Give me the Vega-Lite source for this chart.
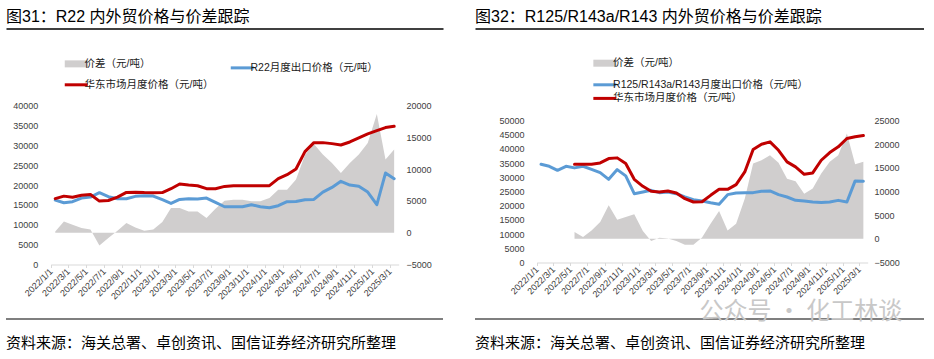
{
  "$schema": "https://vega.github.io/schema/vega-lite/v6.json",
  "background": "white",
  "padding": {"left": 6, "top": 8.5, "right": 0, "bottom": 0},
  "datasets": {
    "r22": [
      {"date": "2022-01-01", "spread": 200, "export_price": 16200, "domestic_price": 16560},
      {"date": "2022-02-01", "spread": 1780, "export_price": 15540, "domestic_price": 17200},
      {"date": "2022-03-01", "spread": 1260, "export_price": 15790, "domestic_price": 16900},
      {"date": "2022-04-01", "spread": 730, "export_price": 16710, "domestic_price": 17400},
      {"date": "2022-05-01", "spread": 520, "export_price": 16960, "domestic_price": 17600},
      {"date": "2022-06-01", "spread": -2000, "export_price": 18070, "domestic_price": 15950},
      {"date": "2022-07-01", "spread": -850, "export_price": 17050, "domestic_price": 16100},
      {"date": "2022-08-01", "spread": 310, "export_price": 16550, "domestic_price": 16970},
      {"date": "2022-09-01", "spread": 1520, "export_price": 16550, "domestic_price": 18140},
      {"date": "2022-10-01", "spread": 830, "export_price": 17140, "domestic_price": 18200},
      {"date": "2022-11-01", "spread": 310, "export_price": 17300, "domestic_price": 18100},
      {"date": "2022-12-01", "spread": 520, "export_price": 17220, "domestic_price": 18060},
      {"date": "2023-01-01", "spread": 1670, "export_price": 16300, "domestic_price": 18100},
      {"date": "2023-02-01", "spread": 3880, "export_price": 15370, "domestic_price": 19070},
      {"date": "2023-03-01", "spread": 3880, "export_price": 16380, "domestic_price": 20240},
      {"date": "2023-04-01", "spread": 3350, "export_price": 16550, "domestic_price": 19990},
      {"date": "2023-05-01", "spread": 3350, "export_price": 16470, "domestic_price": 19820},
      {"date": "2023-06-01", "spread": 2300, "export_price": 16720, "domestic_price": 19070},
      {"date": "2023-07-01", "spread": 3780, "export_price": 15620, "domestic_price": 19070},
      {"date": "2023-08-01", "spread": 5040, "export_price": 14530, "domestic_price": 19650},
      {"date": "2023-09-01", "spread": 5200, "export_price": 14530, "domestic_price": 19830},
      {"date": "2023-10-01", "spread": 5200, "export_price": 14530, "domestic_price": 19830},
      {"date": "2023-11-01", "spread": 4930, "export_price": 15040, "domestic_price": 19830},
      {"date": "2023-12-01", "spread": 4930, "export_price": 14530, "domestic_price": 19830},
      {"date": "2024-01-01", "spread": 5450, "export_price": 14280, "domestic_price": 19830},
      {"date": "2024-02-01", "spread": 6770, "export_price": 14790, "domestic_price": 21590},
      {"date": "2024-03-01", "spread": 6770, "export_price": 15800, "domestic_price": 22600},
      {"date": "2024-04-01", "spread": 8350, "export_price": 15870, "domestic_price": 24020},
      {"date": "2024-05-01", "spread": 12200, "export_price": 16300, "domestic_price": 28400},
      {"date": "2024-06-01", "spread": 13960, "export_price": 16380, "domestic_price": 30660},
      {"date": "2024-07-01", "spread": 12280, "export_price": 18220, "domestic_price": 30660},
      {"date": "2024-08-01", "spread": 10960, "export_price": 19400, "domestic_price": 30410},
      {"date": "2024-09-01", "spread": 9390, "export_price": 20920, "domestic_price": 30070},
      {"date": "2024-10-01", "spread": 10960, "export_price": 19990, "domestic_price": 30820},
      {"date": "2024-11-01", "spread": 12280, "export_price": 19660, "domestic_price": 31830},
      {"date": "2024-12-01", "spread": 14110, "export_price": 18220, "domestic_price": 32840},
      {"date": "2025-01-01", "spread": 18680, "export_price": 15040, "domestic_price": 33680},
      {"date": "2025-02-01", "spread": 11500, "export_price": 23010, "domestic_price": 34440},
      {"date": "2025-03-01", "spread": 13070, "export_price": 21590, "domestic_price": 34780}
    ],
    "r125": [
      {"date": "2022-01-01", "spread": null, "export_price": 34580, "domestic_price": null},
      {"date": "2022-02-01", "spread": null, "export_price": 33880, "domestic_price": null},
      {"date": "2022-03-01", "spread": null, "export_price": 32470, "domestic_price": null},
      {"date": "2022-04-01", "spread": null, "export_price": 33880, "domestic_price": null},
      {"date": "2022-05-01", "spread": 1440, "export_price": 33310, "domestic_price": 34580},
      {"date": "2022-06-01", "spread": 380, "export_price": 33880, "domestic_price": 34580},
      {"date": "2022-07-01", "spread": 1780, "export_price": 32820, "domestic_price": 34580},
      {"date": "2022-08-01", "spread": 3550, "export_price": 31660, "domestic_price": 35070},
      {"date": "2022-09-01", "spread": 7070, "export_price": 29290, "domestic_price": 36600},
      {"date": "2022-10-01", "spread": 4040, "export_price": 32710, "domestic_price": 36840},
      {"date": "2022-11-01", "spread": 4610, "export_price": 30490, "domestic_price": 34830},
      {"date": "2022-12-01", "spread": 5170, "export_price": 24240, "domestic_price": 29290},
      {"date": "2023-01-01", "spread": 1650, "export_price": 24840, "domestic_price": 26820},
      {"date": "2023-02-01", "spread": -470, "export_price": 25410, "domestic_price": 25060},
      {"date": "2023-03-01", "spread": 230, "export_price": 24600, "domestic_price": 24840},
      {"date": "2023-04-01", "spread": 80, "export_price": 24840, "domestic_price": 25200},
      {"date": "2023-05-01", "spread": -470, "export_price": 24240, "domestic_price": 24490},
      {"date": "2023-06-01", "spread": -1250, "export_price": 23070, "domestic_price": 22480},
      {"date": "2023-07-01", "spread": -1250, "export_price": 22130, "domestic_price": 21310},
      {"date": "2023-08-01", "spread": 300, "export_price": 21630, "domestic_price": 21400},
      {"date": "2023-09-01", "spread": 3200, "export_price": 21030, "domestic_price": 23650},
      {"date": "2023-10-01", "spread": 5880, "export_price": 20540, "domestic_price": 25760},
      {"date": "2023-11-01", "spread": 1780, "export_price": 23890, "domestic_price": 25760},
      {"date": "2023-12-01", "spread": 3200, "export_price": 24490, "domestic_price": 27420},
      {"date": "2024-01-01", "spread": 8490, "export_price": 24600, "domestic_price": 31900},
      {"date": "2024-02-01", "spread": 15900, "export_price": 24600, "domestic_price": 39770},
      {"date": "2024-03-01", "spread": 16600, "export_price": 25060, "domestic_price": 41640},
      {"date": "2024-04-01", "spread": 17660, "export_price": 25200, "domestic_price": 42490},
      {"date": "2024-05-01", "spread": 16050, "export_price": 23890, "domestic_price": 39520},
      {"date": "2024-06-01", "spread": 12720, "export_price": 23070, "domestic_price": 35430},
      {"date": "2024-07-01", "spread": 12150, "export_price": 21880, "domestic_price": 33660},
      {"date": "2024-08-01", "spread": 9550, "export_price": 21670, "domestic_price": 31060},
      {"date": "2024-09-01", "spread": 10610, "export_price": 21310, "domestic_price": 31550},
      {"date": "2024-10-01", "spread": 13780, "export_price": 21170, "domestic_price": 36000},
      {"date": "2024-11-01", "spread": 16260, "export_price": 21310, "domestic_price": 38710},
      {"date": "2024-12-01", "spread": 17660, "export_price": 21880, "domestic_price": 40720},
      {"date": "2025-01-01", "spread": 22250, "export_price": 21310, "domestic_price": 43650},
      {"date": "2025-02-01", "spread": 15750, "export_price": 28730, "domestic_price": 44250},
      {"date": "2025-03-01", "spread": 16260, "export_price": 28610, "domestic_price": 44710}
    ]
  },
  "config": {
    "view": {"stroke": null},
    "font": "Liberation Sans, Noto Sans CJK SC",
    "title": {"anchor": "start", "frame": "group", "color": "#000000", "fontWeight": "normal", "font": "Liberation Sans, Noto Sans CJK SC"},
    "axis": {"labelFont": "Liberation Sans", "labelFontSize": 9, "labelColor": "#404040", "grid": false, "title": null}
  },
  "resolve": {"scale": {"color": "independent"}},
  "spacing": -2,
  "vconcat": [
    {
      "spacing": 32,
      "hconcat": [
        {
          "width": 437, "height": 30.5,
          "data": {"values": [{}]},
          "mark": {"type": "text", "text": ""},
          "encoding": {"x": {"datum": 0, "type": "quantitative", "scale": {"domain": [0, 1]},
            "axis": {"orient": "top", "domain": true, "domainColor": "#000000", "domainWidth": 1.5, "ticks": false, "labels": false, "grid": false, "title": null}}},
          "title": {"text": "图31：R22 内外贸价格与价差跟踪", "orient": "top", "anchor": "start", "baseline": "alphabetic", "offset": -9, "fontSize": 16}
        },
        {
          "width": 449, "height": 30.5,
          "data": {"values": [{}]},
          "mark": {"type": "text", "text": ""},
          "encoding": {"x": {"datum": 0, "type": "quantitative", "scale": {"domain": [0, 1]},
            "axis": {"orient": "top", "domain": true, "domainColor": "#000000", "domainWidth": 1.5, "ticks": false, "labels": false, "grid": false, "title": null}}},
          "title": {"text": "图32：R125/R143a/R143 内外贸价格与价差跟踪", "orient": "top", "anchor": "start", "baseline": "alphabetic", "offset": -9, "fontSize": 16}
        }
      ]
    },
    {
      "spacing": 32,
      "resolve": {"scale": {"color": "independent"}},
      "hconcat": [
        {
          "width": 437, "height": 159,
          "data": {"name": "r22"},
          "encoding": {
            "x": {"field": "date", "type": "temporal", "timeUnit": "utcyearmonth", "bandPosition": 0.5,
              "scale": {"type": "utc", "nice": false, "range": [44.7, 392.7], "domain": [{"year": 2022, "month": 1, "date": 1, "utc": true}, {"year": 2025, "month": 4, "date": 1, "utc": true}]},
              "axis": {"format": "%Y/%-m/%-d", "tickCount": {"interval": "month", "step": 2}, "labelAngle": -45, "labelAlign": "right", "labelBaseline": "middle", "labelPadding": 2, "tickSize": 3, "tickColor": "#D9D9D9", "domainColor": "#D9D9D9", "labelOverlap": false, "labelBound": false, "labelFlush": false, "title": null}}
          },
          "layer": [
            {
              "mark": {"type": "area"},
              "encoding": {
                "y": {"field": "spread", "type": "quantitative", "stack": null,
                  "scale": {"domain": [-5000, 20000], "nice": false},
                  "axis": {"orient": "right", "offset": -37, "values": [-5000, 0, 5000, 10000, 15000, 20000], "format": "d", "domain": false, "ticks": false, "labelPadding": 0, "minExtent": 0, "title": null}},
                "color": {"datum": "价差（元/吨）", "type": "nominal",
                  "scale": {"domain": ["价差（元/吨）", "R22月度出口价格（元/吨）", "华东市场月度价格（元/吨）"], "range": ["#D0CECE", "#5B9BD5", "#C00000"]},
                  "legend": {"orient": "none", "direction": "horizontal", "legendX": 65, "legendY": -47.25, "padding": 0, "columns": 2, "columnPadding": 10, "rowPadding": 0.3, "title": null,
                    "symbolType": "stroke", "symbolSize": 529, "symbolStrokeWidth": 3, "labelFontSize": 10.5, "labelColor": "#1a1a1a", "labelFont": "Liberation Sans, Noto Sans CJK SC", "labelOffset": 3, "labelLimit": 400,
                    "encode": {"symbols": {"update": {
                      "strokeWidth": {"signal": "datum.value === '价差（元/吨）' ? 7 : 3"},
                      "stroke": {"signal": "datum.value === '价差（元/吨）' ? '#D0CECE' : (datum.value === '华东市场月度价格（元/吨）' ? '#C00000' : '#5B9BD5')"},
                      "fill": {"value": "transparent"}}}}}}
              }
            },
            {
              "layer": [
                {
                  "mark": {"type": "line", "strokeWidth": 3, "strokeJoin": "round", "strokeCap": "round"},
                  "encoding": {
                    "y": {"field": "export_price", "type": "quantitative", "scale": {"domain": [0, 40000], "nice": false},
                      "axis": {"orient": "left", "offset": -31.7, "values": [0, 5000, 10000, 15000, 20000, 25000, 30000, 35000, 40000], "format": "d", "domain": false, "ticks": false, "labelPadding": 0, "minExtent": 0, "title": null}},
                    "color": {"datum": "R22月度出口价格（元/吨）", "type": "nominal"}
                  }
                },
                {
                  "mark": {"type": "line", "strokeWidth": 3, "strokeJoin": "round", "strokeCap": "round"},
                  "encoding": {
                    "y": {"field": "domestic_price", "type": "quantitative", "scale": {"domain": [0, 40000], "nice": false},
                      "axis": {"orient": "left", "offset": -31.7, "values": [0, 5000, 10000, 15000, 20000, 25000, 30000, 35000, 40000], "format": "d", "domain": false, "ticks": false, "labelPadding": 0, "minExtent": 0, "title": null}},
                    "color": {"datum": "华东市场月度价格（元/吨）", "type": "nominal"}
                  }
                }
              ]
            }
          ],
          "resolve": {"scale": {"y": "independent"}}
        },
        {
          "width": 449, "height": 157,
          "data": {"name": "r125"},
          "encoding": {
            "x": {"field": "date", "type": "temporal", "timeUnit": "utcyearmonth", "bandPosition": 0.5,
              "scale": {"type": "utc", "nice": false, "range": [61.7, 392.7], "domain": [{"year": 2022, "month": 1, "date": 1, "utc": true}, {"year": 2025, "month": 4, "date": 1, "utc": true}]},
              "axis": {"format": "%Y/%-m/%-d", "tickCount": {"interval": "month", "step": 2}, "labelAngle": -45, "labelAlign": "right", "labelBaseline": "middle", "labelPadding": 2, "tickSize": 3, "tickColor": "#D9D9D9", "domainColor": "#D9D9D9", "labelOverlap": false, "labelBound": false, "labelFlush": false, "title": null}}
          },
          "layer": [
            {
              "mark": {"type": "area"},
              "encoding": {
                "y": {"field": "spread", "type": "quantitative", "stack": null,
                  "scale": {"domain": [-5000, 28169], "nice": false},
                  "axis": {"orient": "right", "offset": -50, "values": [-5000, 0, 5000, 10000, 15000, 20000, 25000], "format": "d", "domain": false, "ticks": false, "labelPadding": 0, "minExtent": 0, "title": null}},
                "color": {"datum": "价差（元/吨）", "type": "nominal",
                  "scale": {"domain": ["价差（元/吨）", "R125/R143a/R143月度出口价格（元/吨）", "华东市场月度价格（元/吨）"], "range": ["#D0CECE", "#5B9BD5", "#C00000"]},
                  "legend": {"orient": "none", "direction": "vertical", "legendX": 124.6, "legendY": -47.55, "padding": 0, "columns": 1, "rowPadding": 0.6, "title": null,
                    "symbolType": "stroke", "symbolSize": 529, "symbolStrokeWidth": 3, "labelFontSize": 10.5, "labelColor": "#1a1a1a", "labelFont": "Liberation Sans, Noto Sans CJK SC", "labelOffset": 3, "labelLimit": 400,
                    "encode": {"symbols": {"update": {
                      "strokeWidth": {"signal": "datum.value === '价差（元/吨）' ? 7 : 3"},
                      "stroke": {"signal": "datum.value === '价差（元/吨）' ? '#D0CECE' : (datum.value === '华东市场月度价格（元/吨）' ? '#C00000' : '#5B9BD5')"},
                      "fill": {"value": "transparent"}}}}}}
              }
            },
            {
              "layer": [
                {
                  "mark": {"type": "line", "strokeWidth": 3, "strokeJoin": "round", "strokeCap": "round"},
                  "encoding": {
                    "y": {"field": "export_price", "type": "quantitative", "scale": {"domain": [0, 55282], "nice": false},
                      "axis": {"orient": "left", "offset": -49, "values": [0, 5000, 10000, 15000, 20000, 25000, 30000, 35000, 40000, 45000, 50000], "format": "d", "domain": false, "ticks": false, "labelPadding": 0, "minExtent": 0, "title": null}},
                    "color": {"datum": "R125/R143a/R143月度出口价格（元/吨）", "type": "nominal"}
                  }
                },
                {
                  "mark": {"type": "line", "strokeWidth": 3, "strokeJoin": "round", "strokeCap": "round"},
                  "encoding": {
                    "y": {"field": "domestic_price", "type": "quantitative", "scale": {"domain": [0, 55282], "nice": false},
                      "axis": {"orient": "left", "offset": -49, "values": [0, 5000, 10000, 15000, 20000, 25000, 30000, 35000, 40000, 45000, 50000], "format": "d", "domain": false, "ticks": false, "labelPadding": 0, "minExtent": 0, "title": null}},
                    "color": {"datum": "华东市场月度价格（元/吨）", "type": "nominal"}
                  }
                }
              ]
            }
          ],
          "resolve": {"scale": {"y": "independent"}}
        }
      ]
    },
    {
      "spacing": 32,
      "hconcat": [
        {
          "width": 437, "height": 1,
          "data": {"values": [{}]},
          "mark": {"type": "text", "text": ""},
          "encoding": {},
          "view": {"fill": "#000000", "stroke": null},
          "title": {"text": "资料来源：海关总署、卓创资讯、国信证券经济研究所整理", "orient": "bottom", "anchor": "start", "baseline": "top", "offset": 12, "fontSize": 15}
        },
        {
          "width": 449, "height": 1,
          "data": {"values": [{}]},
          "mark": {"type": "text", "text": "公众号 · 化工林谈", "align": "left", "baseline": "alphabetic", "fontSize": 24, "color": "#C8C8C8", "font": "Noto Sans CJK SC"},
          "encoding": {},
          "view": {"fill": "#000000", "stroke": null},
          "title": {"text": "资料来源：海关总署、卓创资讯、国信证券经济研究所整理", "orient": "bottom", "anchor": "start", "baseline": "top", "offset": 12, "fontSize": 15}
        }
      ]
    }
  ]
}
